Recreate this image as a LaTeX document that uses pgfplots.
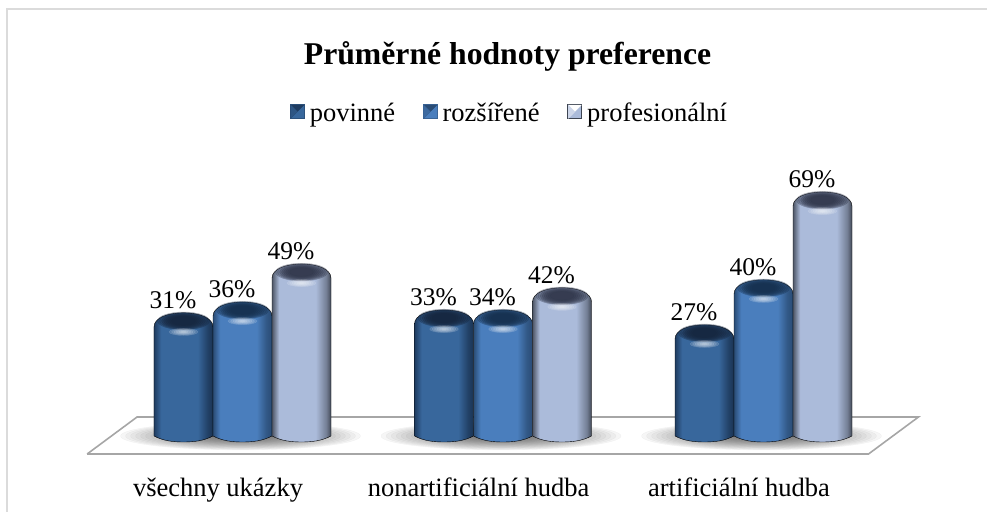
\documentclass[border=0pt]{standalone}
\usepackage{pgfplots}
\pgfplotsset{compat=1.18}
\usepackage{fontspec}
\setmainfont{Liberation Serif}
\definecolor{aD}{HTML}{1F3C60}\definecolor{aM}{HTML}{38679C}\definecolor{aT}{HTML}{16263E}
\definecolor{bD}{HTML}{2A4C75}\definecolor{bM}{HTML}{4A7EBD}\definecolor{bT}{HTML}{16304E}
\definecolor{cD}{HTML}{4E5666}\definecolor{cM}{HTML}{ABBBDA}\definecolor{cT}{HTML}{30364A}
\pgfdeclarehorizontalshading{bodyA}{100bp}{color(0bp)=(aD);color(25bp)=(aD);color(31bp)=(aM);color(62bp)=(aM);color(70bp)=(aD!85!aM);color(75bp)=(aD!85!black);color(100bp)=(aD)}
\pgfdeclarehorizontalshading{bodyB}{100bp}{color(0bp)=(bD);color(25bp)=(bD);color(31bp)=(bM);color(62bp)=(bM);color(70bp)=(bD!75!bM);color(75bp)=(bD);color(100bp)=(bD)}
\pgfdeclarehorizontalshading{bodyC}{100bp}{color(0bp)=(cD);color(25bp)=(cD);color(31bp)=(cM);color(62bp)=(cM);color(71bp)=(cD!60!cM);color(75bp)=(cD!85!black);color(100bp)=(cD)}
% one cylinder, drawn at its data point; \val is the height of the point
\newcommand\cyl[2]{%
  \pgfmathsetlengthmacro\hh{(13.5+3.17*\val)*1pt}%
  \begin{scope}
    \path[shading=#1] (-29.5pt,-\hh) -- (-29.5pt,-3pt)
       .. controls (-29.5pt,6pt) and (-16pt,11pt) .. (0pt,11pt)
       .. controls (16pt,11pt) and (29.5pt,6pt) .. (29.5pt,-3pt)
       -- (29.5pt,-\hh)
       .. controls (20pt,-\hh-5pt) and (10pt,-\hh-6pt) .. (0pt,-\hh-6pt)
       .. controls (-10pt,-\hh-6pt) and (-20pt,-\hh-5pt) .. (-29.5pt,-\hh) -- cycle;
    \foreach \k in {1,...,8}{\fill[#2,opacity=0.3] (0pt,3pt) ellipse ({(10+2*\k)*1pt} and {(3.6+0.66*\k)*1pt});}
    \foreach \k in {1,...,6}{\fill[white,opacity=0.14] (0pt,-8pt) ellipse ({2.4*\k*1pt} and {0.6*\k*1pt});}
  \end{scope}}
\pgfdeclareplotmark{cylA}{\cyl{bodyA}{aT}}
\pgfdeclareplotmark{cylB}{\cyl{bodyB}{bT}}
\pgfdeclareplotmark{cylC}{\cyl{bodyC}{cT}}
\pgfdeclareplotmark{floorshadow}{%
  \foreach \k in {1,...,24}{\fill[black,opacity=0.035] (-2pt,0pt) ellipse ({5*\k*1pt} and {0.58*\k*1pt});}}
\pgfplotsset{
  cylinder series/.style={
    scatter, only marks, mark=#1,
    point meta=explicit,
    visualization depends on={y \as \val},
    scatter/use mapped color={draw=none,fill=none},
    nodes near coords={\pgfmathprintnumber[assume math mode=true]{\pgfplotspointmeta}\%},
    every node near coord/.append style={anchor=center,xshift=-10.5pt,yshift=24pt,font=\fontsize{25.5}{30}\selectfont,text=black},
  },
}
\newcommand\legbox[3]{%
  \draw[#1!80!black,line width=1pt,fill=#2] (-4pt,-6pt) rectangle (10pt,8pt);
  \fill[#3] (-3.5pt,-5.5pt) -- (3pt,1pt) -- (9.5pt,7.5pt) -- (-3.5pt,7.5pt) -- cycle;
  \fill[#2!60!#3] (-3.5pt,7.5pt) -- (3pt,1pt) -- (-3.5pt,-5.5pt) -- cycle;}
\begin{document}
\begin{tikzpicture}
\begin{axis}[
  scale only axis, width=988pt, height=512pt,
  xmin=-0.9309, xmax=2.8618,
  ymin=-28.233, ymax=133.28,
  clip=false,
  axis line style={draw=none},
  tick style={draw=none},
  ytick=\empty,
  xtick={0,1,2},
  xticklabels={všechny ukázky,nonartificiální hudba,artificiální hudba},
  xticklabel style={font=\fontsize{26.5}{30}\selectfont,anchor=base,xshift=-24.5pt,yshift=15.5pt},
  title={\textbf{Průměrné hodnoty preference}},
  title style={font=\fontsize{31.7}{36}\selectfont,at={(axis description cs:0.5137,0.878)},anchor=center},
  legend columns=3,
  legend cell align=left,
  legend style={at={(axis description cs:0.5156,0.78)},anchor=center,draw=none,fill=none,
     font=\fontsize{26.5}{30}\selectfont,inner sep=0pt,
     /tikz/every odd column/.append style={column sep=3pt},
     /tikz/every even column/.append style={column sep=25.5pt}},
]
% chart frame
\addplot[forget plot,draw=black!14,line width=2pt] coordinates {(-0.9035,-28.1) (-0.9035,130.5) (2.857,130.5)};
% shadows on the floor
\addplot[forget plot,only marks,mark=floorshadow] coordinates {(0,-4.26) (1,-4.26) (2,-4.26)};
% floor plate
\addplot[forget plot,draw=black!35,line width=1.6pt,line join=miter] coordinates {(-0.5964,-9.94) (-0.4047,1.735) (2.5949,1.735) (2.4031,-9.94) (-0.5964,-9.94)};
% drawn height, printed value in brackets
\addplot[cylinder series=cylA,legend image code/.code={\legbox{aM}{aM}{aD}}] coordinates {(-0.2265,31.1)[31] (0.7735,32.0)[33] (1.7735,27.3)[27]};
\addlegendentry{povinné}
\addplot[cylinder series=cylB,legend image code/.code={\legbox{bM}{bM}{bD}}] coordinates {(0,34.5)[36] (1,32.0)[34] (2,41.5)[40]};
\addlegendentry{rozšířené}
\addplot[cylinder series=cylC,legend image code/.code={\legbox{cD}{cM}{white}}] coordinates {(0.2265,46.5)[49] (1.2265,39.0)[42] (2.2265,69.2)[69]};
\addlegendentry{profesionální}
\end{axis}
\end{tikzpicture}
\end{document}
